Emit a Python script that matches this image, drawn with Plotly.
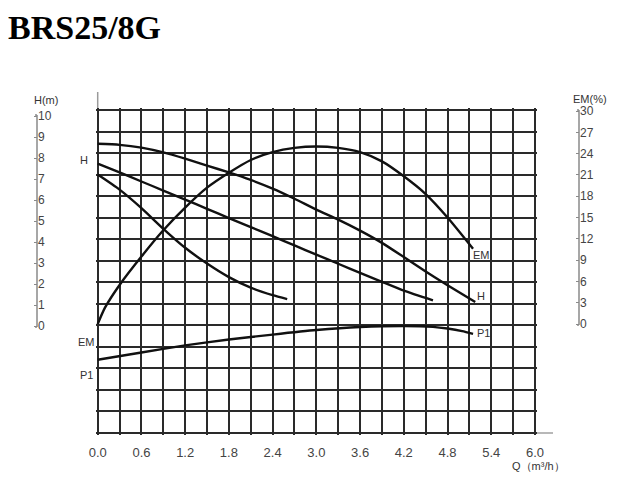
import plotly.graph_objects as go

# page body has an 8px margin: the figure is sized and positioned to compensate
OFF = 8
W, Hpx = 635 - OFF, 484 - OFF

# ---- data ----
q_h_high = [0, 0.3, 0.6, 0.9, 1.2, 1.5, 1.8, 2.1, 2.4, 2.7, 3.0, 3.3, 3.6, 3.9, 4.2, 4.5, 4.8, 5.18]
h_high = [8.43, 8.38, 8.25, 8.03, 7.74, 7.42, 7.1, 6.75, 6.35, 5.88, 5.37, 4.91, 4.4, 3.83, 3.17, 2.5, 1.86, 1.08]

q_h_mid = [0, 0.3, 0.6, 0.9, 1.2, 1.5, 1.8, 2.1, 2.4, 2.7, 3.0, 3.3, 3.6, 3.9, 4.2, 4.6]
h_mid = [7.51, 7.10, 6.68, 6.26, 5.84, 5.41, 4.98, 4.56, 4.14, 3.71, 3.28, 2.86, 2.44, 2.02, 1.61, 1.16]

q_h_low = [0, 0.3, 0.6, 0.9, 1.2, 1.5, 1.8, 2.1, 2.4, 2.6]
h_low = [7.0, 6.30, 5.44, 4.48, 3.60, 2.87, 2.24, 1.75, 1.40, 1.22]

q_em = [0, 0.1, 0.3, 0.6, 0.9, 1.2, 1.5, 1.8, 2.1, 2.4, 2.7, 3.0, 3.3, 3.6, 3.9, 4.2, 4.5, 4.8, 5.15]
em = [0, 2.3, 5.5, 9.5, 13.2, 16.4, 19.2, 21.3, 23.1, 24.2, 24.8, 25.0, 24.8, 24.2, 22.9, 20.8, 18.3, 15.0, 10.6]

# P1 has no printed scale: values in grid rows below H = 0
q_p1 = [0, 0.6, 1.2, 1.8, 2.4, 3.0, 3.6, 4.2, 4.6, 4.8, 5.0, 5.15]
p1_rows = [-1.6, -1.26, -0.93, -0.66, -0.43, -0.22, -0.08, -0.03, -0.07, -0.15, -0.27, -0.4]

x_ticks = [0.0, 0.6, 1.2, 1.8, 2.4, 3.0, 3.6, 4.2, 4.8, 5.4, 6.0]
h_ticks = list(range(0, 11))
em_ticks = list(range(0, 31, 3))

# ---- helpers (window pixels -> paper fractions) ----
def px_x(p):
    return (p - OFF) / W

def px_y(p):
    return 1 - (p - OFF) / Hpx

LINE = dict(color="#111111", width=2.4, shape="spline", smoothing=0.6)
GRID = "#2a2a2a"
GW = 1.8
TXT = "#333333"
AXC = "#8a8a8a"
FONT = "Liberation Sans, Arial, sans-serif"

# grid corners (window px) for Q = 0..6 and grid rows -5..10
x0, x1 = 97.7, 535.0
y_top, y_bot = 110.0, 433.0
PAD = 2.0  # keep the border grid lines inside the axis range
kx = (x1 - x0) / 6.0
ky = (y_bot - y_top) / 15.0
dom_l, dom_r = x0 - PAD, x1 + PAD
dom_t, dom_b = y_top - PAD, y_bot + PAD

h_top_px, h_zero_px = 116.0, 326.0
em_top_px, em_zero_px = 111.0, 324.0

def scale_range(v_top, top_px, zero_px):
    k = (zero_px - top_px) / v_top
    return [-(dom_b - zero_px) / k, v_top + (top_px - dom_t) / k]

fig = go.Figure()
for qq, hh in [(q_h_high, h_high), (q_h_mid, h_mid), (q_h_low, h_low)]:
    fig.add_trace(go.Scatter(x=qq, y=hh, mode="lines", line=LINE,
                             xaxis="x", yaxis="y", hoverinfo="skip", showlegend=False))
fig.add_trace(go.Scatter(x=q_p1, y=p1_rows, mode="lines", line=LINE,
                         xaxis="x", yaxis="y", hoverinfo="skip", showlegend=False))
fig.add_trace(go.Scatter(x=q_em, y=em, mode="lines", line=LINE,
                         xaxis="x", yaxis="y3", hoverinfo="skip", showlegend=False))
fig.add_trace(go.Scatter(x=[0], y=[0], mode="markers", marker=dict(opacity=0),
                         xaxis="x", yaxis="y2", hoverinfo="skip", showlegend=False))

side_axis = dict(
    anchor="free", side="right", overlaying="y", automargin=False,
    showgrid=False, zeroline=False, showline=False,
    ticks="inside", ticklen=3, tickcolor=AXC, tickwidth=1,
    tickfont=dict(size=12, color="#444444", family=FONT),
)

fig.update_layout(
    template="none",
    width=W, height=Hpx,
    margin=dict(l=0, r=0, t=0, b=0, autoexpand=False),
    paper_bgcolor="white", plot_bgcolor="white",
    font=dict(family=FONT, color=TXT, size=12),
    showlegend=False,
    xaxis=dict(
        domain=[px_x(dom_l), px_x(dom_r)], range=[-PAD / kx, 6 + PAD / kx], automargin=False,
        tickvals=x_ticks, ticktext=[f"{v:.1f}" for v in x_ticks],
        showgrid=True, gridcolor=GRID, gridwidth=GW,
        minor=dict(dtick=0.3, tick0=0, showgrid=True, gridcolor=GRID, gridwidth=GW),
        zeroline=False, showline=False, ticks="", ticklabelstandoff=8,
        tickfont=dict(size=13, color="#444444"),
        anchor="y",
    ),
    yaxis=dict(
        domain=[px_y(dom_b), px_y(dom_t)], range=[-5 - PAD / ky, 10 + PAD / ky], dtick=1, tick0=0,
        automargin=False,
        showgrid=True, gridcolor=GRID, gridwidth=GW,
        zeroline=False, showline=False, showticklabels=False, ticks="",
    ),
    yaxis2=dict(side_axis, position=px_x(37), tickvals=h_ticks,
                range=scale_range(10, h_top_px, h_zero_px)),
    yaxis3=dict(side_axis, position=px_x(579), tickvals=em_ticks,
                range=scale_range(30, em_top_px, em_zero_px)),
)

def vline(x, ya, yb, color=AXC):
    return dict(type="line", xref="paper", yref="paper", x0=px_x(x), x1=px_x(x),
                y0=px_y(ya), y1=px_y(yb), line=dict(color=color, width=1.5), layer="below")

def hline(xa, xb, y, color=AXC):
    return dict(type="line", xref="paper", yref="paper", x0=px_x(xa), x1=px_x(xb),
                y0=px_y(y), y1=px_y(y), line=dict(color=color, width=1.5), layer="below")

shapes = [
    vline(x0, y_top, 92, "#9a9a9a"),
    hline(x1, 553, y_bot, "#a0a0a0"),
    vline(37, h_zero_px + 1, h_top_px - 1), hline(35, 37, h_top_px - 1), hline(35, 37, h_zero_px + 1),
    vline(579, em_zero_px + 1, em_top_px - 1), hline(577, 579, em_top_px - 1), hline(577, 579, em_zero_px + 1),
]
fig.update_layout(shapes=shapes)

def ann(text, x, y, size=12, xanchor="center", **kw):
    fig.add_annotation(text=text, x=px_x(x), y=px_y(y), xref="paper", yref="paper",
                       showarrow=False, xanchor=xanchor, yanchor="middle",
                       font=dict(size=size, color=kw.get("color", TXT),
                                 family=kw.get("family", FONT)))

ann("<b>BRS25/8G</b>", 6, 28, size=34, xanchor="left", color="black",
    family="Liberation Serif, Times New Roman, serif")
ann("H(m)", 46, 100, size=11)
ann("EM(%)", 590, 99, size=11)
ann("Q（m³/h）", 538, 466, size=11)
ann("H", 84, 160, size=11)
ann("EM", 86, 342, size=11)
ann("P1", 86, 375, size=11)
ann("EM", 481, 255, size=11)
ann("H", 481, 296, size=11)
ann("P1", 483, 333, size=11)

fig.write_html("out.html")
